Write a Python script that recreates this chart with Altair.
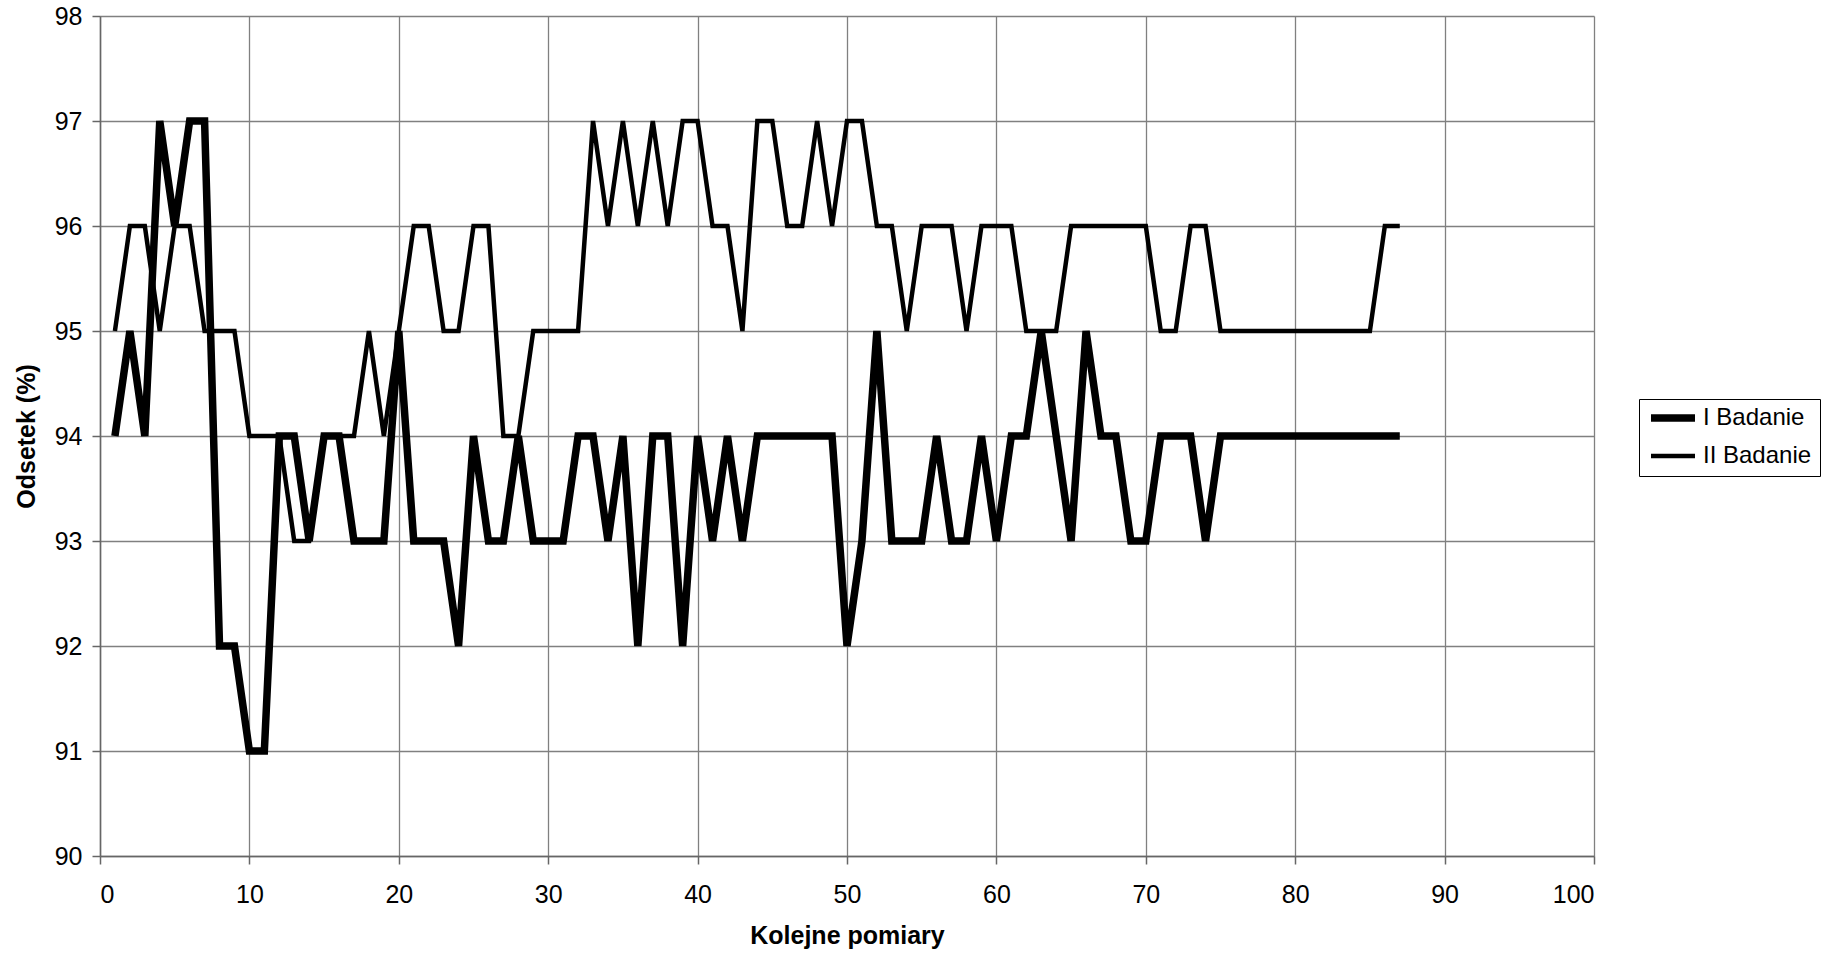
import altair as alt
import pandas as pd

# Kolejne pomiary (numer pomiaru)
pomiar = list(range(1, 88))

# Odsetek (%) - I Badanie
badanie_1 = [
    94, 95, 94, 97, 96, 97, 97, 92, 92, 91,
    91, 94, 94, 93, 94, 94, 93, 93, 93, 95,
    93, 93, 93, 92, 94, 93, 93, 94, 93, 93,
    93, 94, 94, 93, 94, 92, 94, 94, 92, 94,
    93, 94, 93, 94, 94, 94, 94, 94, 94, 92,
    93, 95, 93, 93, 93, 94, 93, 93, 94, 93,
    94, 94, 95, 94, 93, 95, 94, 94, 93, 93,
    94, 94, 94, 93, 94, 94, 94, 94, 94, 94,
    94, 94, 94, 94, 94, 94, 94,
]

# Odsetek (%) - II Badanie
badanie_2 = [
    95, 96, 96, 95, 96, 96, 95, 95, 95, 94,
    94, 94, 93, 93, 94, 94, 94, 95, 94, 95,
    96, 96, 95, 95, 96, 96, 94, 94, 95, 95,
    95, 95, 97, 96, 97, 96, 97, 96, 97, 97,
    96, 96, 95, 97, 97, 96, 96, 97, 96, 97,
    97, 96, 96, 95, 96, 96, 96, 95, 96, 96,
    96, 95, 95, 95, 96, 96, 96, 96, 96, 96,
    95, 95, 96, 96, 95, 95, 95, 95, 95, 95,
    95, 95, 95, 95, 95, 96, 96,
]

series_names = ["I Badanie", "II Badanie"]
x_ticks = list(range(0, 101, 10))
y_ticks = list(range(90, 99))

df = pd.DataFrame({
    "Pomiar": pomiar * 2,
    "Odsetek": badanie_1 + badanie_2,
    "Seria": [series_names[0]] * len(pomiar) + [series_names[1]] * len(pomiar),
})

FONT = "Liberation Sans"

chart = (
    alt.Chart(df)
    .mark_line(strokeJoin="miter")
    .encode(
        x=alt.X(
            "Pomiar:Q",
            scale=alt.Scale(domain=[0, 100], nice=False, zero=False),
            axis=alt.Axis(values=x_ticks, title="Kolejne pomiary",
                          labelPadding=18, titlePadding=16, format="d"),
        ),
        y=alt.Y(
            "Odsetek:Q",
            scale=alt.Scale(domain=[90, 98], nice=False, zero=False),
            axis=alt.Axis(values=y_ticks, title="Odsetek (%)",
                          labelPadding=10, titlePadding=15, format="d"),
        ),
        color=alt.Color(
            "Seria:N",
            scale=alt.Scale(domain=series_names, range=["black", "black"]),
            legend=alt.Legend(title=None),
        ),
        strokeWidth=alt.StrokeWidth(
            "Seria:N",
            scale=alt.Scale(domain=series_names, range=[7.5, 4.5]),
            legend=alt.Legend(title=None),
        ),
    )
    .properties(
        width=1494,
        height=840,
        autosize=alt.AutoSizeParams(type="none"),
        padding={"left": 100, "top": 16, "right": 235, "bottom": 98},
        background="white",
    )
    .configure_view(strokeWidth=0)
    .configure_axis(
        domainColor="#666666",
        domainWidth=1.5,
        tickColor="#666666",
        tickWidth=1.5,
        tickSize=8,
        gridColor="#808080",
        gridWidth=1.3,
        labelFont=FONT,
        labelFontSize=25,
        labelColor="black",
        titleFont=FONT,
        titleFontSize=25,
        titleFontWeight="bold",
        titleColor="black",
    )
    .configure_legend(
        orient="none",
        legendX=1539,
        legendY=383,
        strokeColor="black",
        strokeWidth=1,
        fillColor="white",
        padding=8,
        symbolType="stroke",
        symbolSize=1936,
        clipHeight=22,
        labelFont=FONT,
        labelFontSize=24,
        labelColor="black",
        labelOffset=4,
        rowPadding=14,
    )
)

chart.save("out.html", embed_options={"renderer": "svg", "actions": False})
